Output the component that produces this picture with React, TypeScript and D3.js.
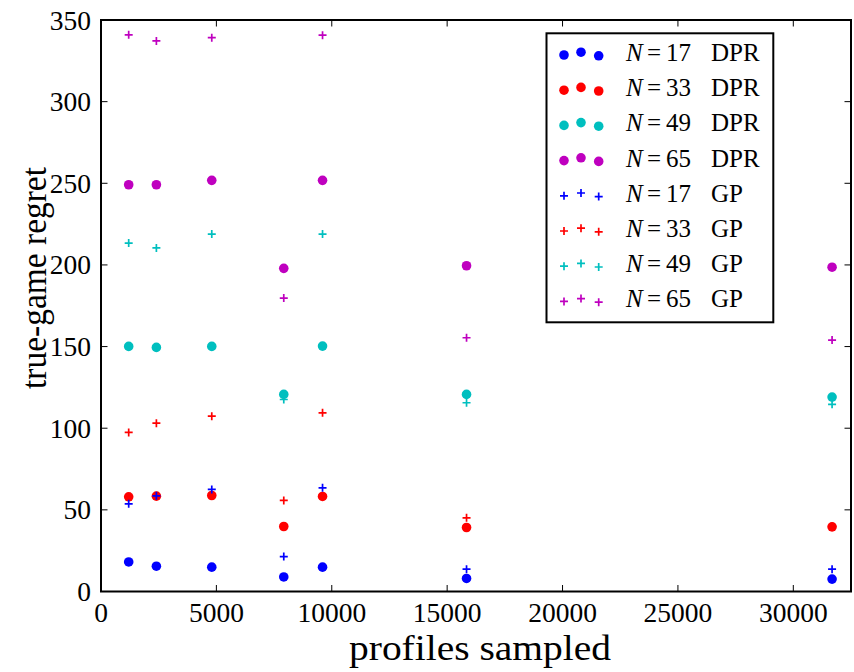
import React from "react";
import * as d3 from "d3";

const profiles = [1200, 2400, 4800, 7920, 9600, 15840, 31680];

const dpr17 = [18.1, 15.5, 14.9, 8.9, 14.9, 8.0, 7.6];
const dpr33 = [58.0, 58.4, 58.8, 39.8, 58.2, 39.2, 39.6];
const dpr49 = [150.1, 149.5, 150.1, 120.7, 150.3, 120.7, 119.1];
const dpr65 = [249.1, 249.1, 251.8, 197.9, 251.8, 199.5, 198.6];
const gp17 = [53.7, 58.6, 62.5, 21.4, 63.5, 13.7, 13.7];
const gp33 = [97.4, 103.1, 107.4, 55.8, 109.4, 45.1, 39.8];
const gp49 = [213.4, 210.4, 218.9, 117.6, 218.9, 115.6, 114.6];
const gp65 = [340.9, 337.2, 339.2, 179.7, 340.7, 155.4, 154.0];

const xTicks = [0, 5000, 10000, 15000, 20000, 25000, 30000];
const yTicks = [0, 50, 100, 150, 200, 250, 300, 350];

const BLUE = "#0000ff";
const RED = "#ff0000";
const CYAN = "#00bfbf";
const MAGENTA = "#bf00bf";

const series = [
  { n: "17", method: "DPR", kind: "dot", color: BLUE, values: dpr17 },
  { n: "33", method: "DPR", kind: "dot", color: RED, values: dpr33 },
  { n: "49", method: "DPR", kind: "dot", color: CYAN, values: dpr49 },
  { n: "65", method: "DPR", kind: "dot", color: MAGENTA, values: dpr65 },
  { n: "17", method: "GP", kind: "plus", color: BLUE, values: gp17 },
  { n: "33", method: "GP", kind: "plus", color: RED, values: gp33 },
  { n: "49", method: "GP", kind: "plus", color: CYAN, values: gp49 },
  { n: "65", method: "GP", kind: "plus", color: MAGENTA, values: gp65 },
];

const W = 854;
const H = 672;
const L = 101;
const R = 851;
const T = 20;
const B = 591.5;
const FONT = "'Liberation Serif', 'Times New Roman', serif";

function Marker({ kind, x, y, color }: { kind: string; x: number; y: number; color: string }) {
  if (kind === "dot") return <circle cx={x} cy={y} r={4.8} fill={color} />;
  const a = 4;
  return (
    <path
      d={`M${x - a},${y}H${x + a}M${x},${y - a}V${y + a}`}
      stroke={color}
      strokeWidth={1.7}
      fill="none"
    />
  );
}

export default function App() {
  const x = d3.scaleLinear().domain([0, 32500]).range([L, R]);
  const y = d3.scaleLinear().domain([0, 350]).range([B, T]);
  const tickLen = 6.5;

  const legX = 546.5;
  const legY = 33.3;
  const legW = 226.8;
  const legH = 289;
  const rowGap = 35.2;
  const row0 = 53;
  const mxs = [564, 581, 598.7];
  const myOff = [2, -0.8, 2.8];

  return (
    <svg width={W} height={H} style={{ display: "block", position: "absolute", left: 0, top: 0 }}>
      <rect x={0} y={0} width={W} height={H} fill="#fff" />
      {series.map((s, si) =>
        s.values.map((v, i) => (
          <Marker key={`${si}-${i}`} kind={s.kind} x={x(profiles[i])} y={y(v)} color={s.color} />
        ))
      )}
      {xTicks.map((t) => (
        <g key={`xt${t}`}>
          <line x1={x(t)} x2={x(t)} y1={B} y2={B - tickLen} stroke="#000" strokeWidth={1} />
          <line x1={x(t)} x2={x(t)} y1={T} y2={T + tickLen} stroke="#000" strokeWidth={1} />
          <text x={x(t)} y={622} textAnchor="middle" fontFamily={FONT} fontSize={27.5} fill="#000">
            {t}
          </text>
        </g>
      ))}
      {yTicks.map((t) => (
        <g key={`yt${t}`}>
          <line x1={L} x2={L + tickLen} y1={y(t)} y2={y(t)} stroke="#000" strokeWidth={1} />
          <line x1={R} x2={R - tickLen} y1={y(t)} y2={y(t)} stroke="#000" strokeWidth={1} />
          <text x={91} y={y(t) + 9.5} textAnchor="end" fontFamily={FONT} fontSize={27.5} fill="#000">
            {t}
          </text>
        </g>
      ))}
      <rect x={L} y={T} width={R - L} height={B - T} fill="none" stroke="#000" strokeWidth={2} />
      <text
        x={480}
        y={660}
        textAnchor="middle"
        fontFamily={FONT}
        fontSize={35}
        textLength={262}
        lengthAdjust="spacingAndGlyphs"
        fill="#000"
      >
        profiles sampled
      </text>
      <text
        transform="translate(46,278) rotate(-90)"
        textAnchor="middle"
        fontFamily={FONT}
        fontSize={35}
        textLength={222}
        lengthAdjust="spacingAndGlyphs"
        fill="#000"
      >
        true-game regret
      </text>
      <rect x={legX} y={legY} width={legW} height={legH} fill="#fff" stroke="#000" strokeWidth={2} />
      {series.map((s, i) => {
        const cy = row0 + i * rowGap;
        return (
          <g key={`leg${i}`}>
            {mxs.map((mx, k) => (
              <Marker key={k} kind={s.kind} x={mx} y={cy + myOff[k]} color={s.color} />
            ))}
            <text y={cy + 8} fontFamily={FONT} fontSize={25} fill="#000">
              <tspan x={626} fontStyle="italic">N</tspan>
              <tspan x={647}>=</tspan>
              <tspan x={666}>{s.n}</tspan>
              <tspan x={711}>{s.method}</tspan>
            </text>
          </g>
        );
      })}
    </svg>
  );
}
